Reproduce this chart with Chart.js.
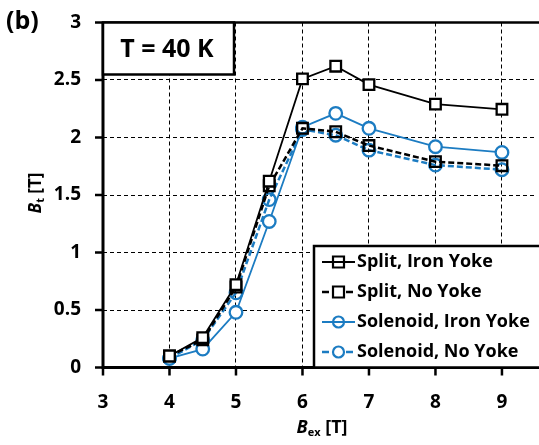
<!DOCTYPE html>
<html>
<head>
<meta charset="utf-8">
<script src="https://cdn.jsdelivr.net/npm/chart.js@4"></script>
<style>
  html, body { margin: 0; padding: 0; background: #fff; overflow: hidden; }
  #wrap { width: 545px; height: 445px; }
</style>
</head>
<body>
<div id="wrap"><canvas id="myChart" width="545" height="445"></canvas></div>
<script>
// field values B_ex [T]
const bex = [4, 4.5, 5, 5.5, 6, 6.5, 7, 8, 9];
// trapped field B_t [T]
const splitIron = [0.10, 0.26, 0.72, 1.62, 2.51, 2.62, 2.46, 2.29, 2.245];
const splitNone = [0.10, 0.24, 0.70, 1.58, 2.08, 2.05, 1.93, 1.79, 1.755];
const solIron = [0.08, 0.16, 0.48, 1.27, 2.09, 2.21, 2.08, 1.92, 1.87];
const solNone = [0.08, 0.24, 0.65, 1.46, 2.07, 2.02, 1.89, 1.76, 1.72];

const seriesNames = ["Split, Iron Yoke", "Split, No Yoke", "Solenoid, Iron Yoke", "Solenoid, No Yoke"];
const xTicks = [3, 4, 5, 6, 7, 8, 9];
const yTicks = [0, 0.5, 1, 1.5, 2, 2.5, 3];

const BLUE = "#1c7cc2";
const FONT = "'Open Sans', sans-serif";

const pts = (ys) => bex.map((x, i) => ({ x: x, y: ys[i] }));

const mkSet = (label, ys, color, dashed, style) => ({
  label: label,
  data: pts(ys),
  borderColor: color,
  borderWidth: dashed ? 2.5 : 1.8,
  borderDash: dashed ? [6, 3] : [],
  pointStyle: style,
  pointRadius: style === "rect" ? 7.5 : 6.3,
  pointBorderWidth: 2.3,
  pointBorderColor: color,
  pointBackgroundColor: dashed ? "rgba(0,0,0,0)" : "#fff",
  tension: 0,
  fill: false,
});

// solid axis lines and outward tick marks, drawn before the data
const axisLines = {
  id: "axisLines",
  beforeDatasetsDraw(chart) {
    const ctx = chart.ctx;
    const a = chart.chartArea;
    const xs = chart.scales.x, ys = chart.scales.y;
    ctx.save();
    ctx.strokeStyle = "#000";
    ctx.lineWidth = 2.5;
    ctx.beginPath();
    xTicks.forEach((v) => {
      const px = xs.getPixelForValue(v);
      ctx.moveTo(px, a.bottom);
      ctx.lineTo(px, a.bottom + 8);
    });
    yTicks.forEach((v) => {
      const py = ys.getPixelForValue(v);
      ctx.moveTo(a.left, py);
      ctx.lineTo(a.left - 8, py);
    });
    ctx.stroke();
    ctx.lineWidth = 3;
    ctx.beginPath();
    ctx.moveTo(a.left, a.top);
    ctx.lineTo(a.left, a.bottom);
    ctx.lineTo(a.right + 5, a.bottom);
    ctx.stroke();
    ctx.lineWidth = 2.5;
    ctx.beginPath();
    ctx.moveTo(a.left, a.top);
    ctx.lineTo(a.right + 5, a.top);
    ctx.stroke();
    ctx.restore();
  },
};

// draws the boxes, labels and axis titles around the plot
const decorations = {
  id: "decorations",
  afterDraw(chart) {
    const ctx = chart.ctx;
    const area = chart.chartArea;
    ctx.save();

    // (b)
    ctx.fillStyle = "#000";
    ctx.font = "bold 25px " + FONT;
    ctx.textBaseline = "middle";
    ctx.textAlign = "left";
    ctx.fillText("(b)", 6, 22);

    // T = 40 K box
    ctx.fillStyle = "#fff";
    ctx.fillRect(area.left, area.top, 131, 52);
    ctx.strokeStyle = "#000";
    ctx.lineWidth = 2.5;
    ctx.strokeRect(area.left, area.top, 131, 52);
    ctx.fillStyle = "#000";
    ctx.font = "bold 25px " + FONT;
    ctx.textAlign = "center";
    ctx.fillText("T = 40 K", area.left + 64, area.top + 27);

    // legend box
    const lx = 314, ly = 246;
    ctx.fillStyle = "#fff";
    ctx.fillRect(lx, ly, area.right - lx + 5, area.bottom - ly);
    ctx.strokeStyle = "#000";
    ctx.lineWidth = 2.5;
    ctx.strokeRect(lx, ly, area.right - lx + 10, area.bottom - ly);

    chart.data.datasets.forEach((ds, i) => {
      const yy = 262 + i * 30;
      const x0 = 322, x1 = 355, xm = 338.5;
      ctx.strokeStyle = ds.borderColor;
      ctx.lineWidth = ds.borderWidth;
      ctx.setLineDash(ds.borderDash.length ? [7, 17] : []);
      ctx.beginPath();
      ctx.moveTo(x0, yy);
      ctx.lineTo(x1, yy);
      ctx.stroke();
      ctx.setLineDash([]);
      ctx.lineWidth = 2.2;
      ctx.beginPath();
      if (ds.pointStyle === "rect") {
        ctx.rect(xm - 5.5, yy - 5.5, 11, 11);
      } else {
        ctx.arc(xm, yy, 5.5, 0, Math.PI * 2);
      }
      ctx.stroke();
      ctx.fillStyle = "#000";
      ctx.font = "bold 18px " + FONT;
      ctx.textAlign = "left";
      ctx.textBaseline = "middle";
      ctx.fillText(seriesNames[i], 357, yy);
    });

    // y title: B_t [T]
    ctx.save();
    ctx.translate(36, 193);
    ctx.rotate(-Math.PI / 2);
    ctx.fillStyle = "#000";
    ctx.textBaseline = "middle";
    ctx.textAlign = "left";
    ctx.font = "italic bold 17px " + FONT;
    const wB = ctx.measureText("B").width;
    ctx.font = "bold 17px " + FONT;
    const wT = ctx.measureText(" [T]").width;
    ctx.font = "bold 11px " + FONT;
    const wt = ctx.measureText("t").width;
    let sx = -(wB + wt + wT) / 2;
    ctx.font = "italic bold 17px " + FONT;
    ctx.fillText("B", sx, 0);
    ctx.font = "bold 11px " + FONT;
    ctx.fillText("t", sx + wB, 5);
    ctx.font = "bold 17px " + FONT;
    ctx.fillText(" [T]", sx + wB + wt, 0);
    ctx.restore();

    // x title: B_ex [T]
    ctx.fillStyle = "#000";
    ctx.textBaseline = "middle";
    ctx.textAlign = "left";
    ctx.font = "italic bold 18px " + FONT;
    const xB = ctx.measureText("B").width;
    ctx.font = "bold 11px " + FONT;
    const xe = ctx.measureText("ex").width;
    ctx.font = "bold 18px " + FONT;
    const xT = ctx.measureText(" [T]").width;
    let tx = 322 - (xB + xe + xT) / 2;
    ctx.font = "italic bold 18px " + FONT;
    ctx.fillText("B", tx, 428);
    ctx.font = "bold 11px " + FONT;
    ctx.fillText("ex", tx + xB, 433);
    ctx.font = "bold 18px " + FONT;
    ctx.fillText(" [T]", tx + xB + xe, 428);

    ctx.restore();
  },
};

const gridOpts = {
  color: "#000",
  lineWidth: 1,
  drawTicks: false,
};

const ctx = document.getElementById("myChart").getContext("2d");
new Chart(ctx, {
  type: "line",
  data: {
    datasets: [
      mkSet(seriesNames[0], splitIron, "#000", false, "rect"),
      mkSet(seriesNames[1], splitNone, "#000", true, "rect"),
      mkSet(seriesNames[2], solIron, BLUE, false, "circle"),
      mkSet(seriesNames[3], solNone, BLUE, true, "circle"),
    ],
  },
  options: {
    responsive: false,
    animation: false,
    layout: { padding: { left: 0, top: 22.5, right: 2, bottom: 0 } },
    plugins: {
      legend: { display: false },
      tooltip: { enabled: false },
    },
    scales: {
      x: {
        type: "linear",
        min: 3,
        max: 9.5,
        afterFit: (scale) => {
          scale.height = 77.5;
          scale.paddingLeft = 0;
          scale.paddingRight = 0;
        },
        afterBuildTicks: (scale) => { scale.ticks = xTicks.map((v) => ({ value: v })); },
        ticks: {
          font: { family: FONT, size: 19, weight: "bold" },
          color: "#000",
          padding: 24,
          maxRotation: 0,
          callback: (v) => String(v),
        },
        grid: gridOpts,
        border: { display: false, dash: [4, 3] },
      },
      y: {
        type: "linear",
        min: 0,
        max: 3,
        afterFit: (scale) => {
          scale.width = 103;
          scale.paddingTop = 0;
          scale.paddingBottom = 0;
        },
        afterBuildTicks: (scale) => { scale.ticks = yTicks.map((v) => ({ value: v })); },
        ticks: {
          font: { family: FONT, size: 19, weight: "bold" },
          color: "#000",
          padding: 22,
          callback: (v) => String(v),
        },
        grid: gridOpts,
        border: { display: false, dash: [4, 3] },
      },
    },
  },
  plugins: [axisLines, decorations],
});
</script>
</body>
</html>
